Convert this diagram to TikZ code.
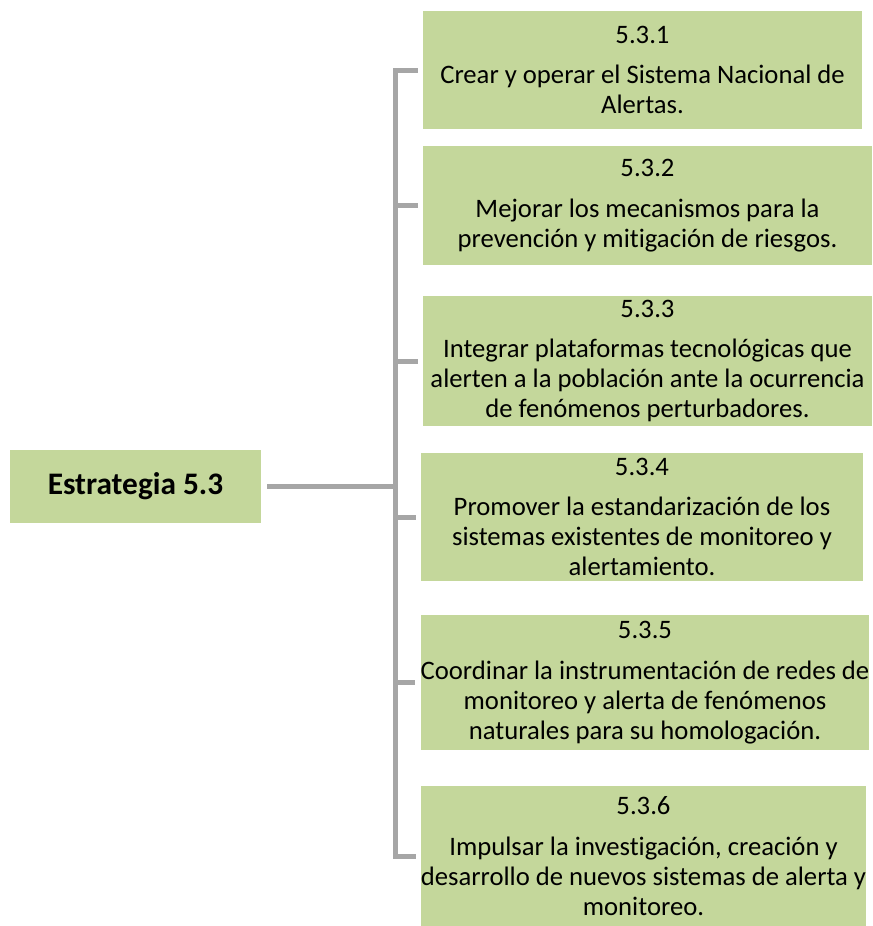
\documentclass[tikz,border=0pt]{standalone}
\usepackage{fontspec}
\setmainfont{Carlito}[Ligatures=NoCommon]
\definecolor{boxgreen}{RGB}{196,215,155}
\definecolor{linegray}{RGB}{166,166,166}
\begin{document}
\begin{tikzpicture}[x=0.75pt,y=-0.75pt,
    item/.style={fill=boxgreen, align=center, inner sep=0pt,
      font=\fontsize{20}{22.5}\selectfont},
    link/.style={draw=linegray, line width=3.75pt}]
      \useasboundingbox (0,0) rectangle (873,926);
      \draw
        (135.5,486.5) node[item, minimum width=188.25pt, minimum height=54.75pt, font=\fontsize{23.5}{26}\selectfont\bfseries] (est){Estrategia 5.3}
        (642.5,70) node[item, minimum width=329.25pt, minimum height=88.5pt] (b1){5.3.1\\[8pt]Crear y operar el Sistema Nacional de\\Alertas.}
        (647.5,205.5) node[item, minimum width=336.75pt, minimum height=89.25pt] (b2){5.3.2\\[8pt]Mejorar los mecanismos para la\\prevención y mitigación de riesgos.}
        (647.5,361) node[item, minimum width=336.75pt, minimum height=97.5pt] (b3){5.3.3\\[8pt]Integrar plataformas tecnológicas que\\alerten a la población ante la ocurrencia\\de fenómenos perturbadores.}
        (642,517) node[item, minimum width=331.5pt, minimum height=96pt] (b4){5.3.4\\[8pt]Promover la estandarización de los\\sistemas existentes de monitoreo y\\alertamiento.}
        (645,682.5) node[item, minimum width=336pt, minimum height=101.25pt] (b5){5.3.5\\[8pt]Coordinar la instrumentación de redes de\\monitoreo y alerta de fenómenos\\naturales para su homologación.}
        (643.5,856) node[item, minimum width=333.75pt, minimum height=105pt] (b6){5.3.6\\[8pt]Impulsar la investigación, creación y\\desarrollo de nuevos sistemas de alerta y\\monitoreo.};
      \coordinate (spine) at (395,0);
      \begin{scope}[link]
        \draw ([xshift=-3.75pt]b1.west) -- (spine |- b1.west) -- (spine |- b6.west) -- ([xshift=-3.75pt]b6.west);
        \draw (spine |- b2.west) -- ([xshift=-3.75pt]b2.west);
        \draw (spine |- b3.west) -- ([xshift=-3.75pt]b3.west);
        \draw (spine |- b4.west) -- ([xshift=-3.75pt]b4.west);
        \draw (spine |- b5.west) -- ([xshift=-3.75pt]b5.west);
        \draw ([xshift=4.5pt]est.east) -- (spine |- est.east);
      \end{scope}
    \end{tikzpicture}
\end{document}
